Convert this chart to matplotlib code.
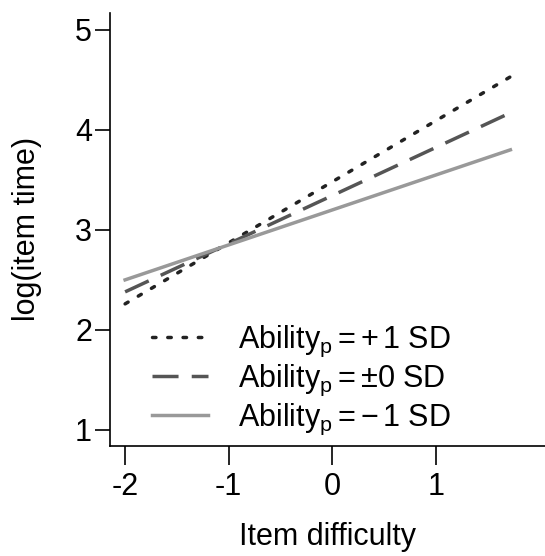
import matplotlib.pyplot as plt

plt.rcParams['font.family'] = ['Liberation Sans', 'DejaVu Sans']
plt.rcParams['mathtext.fontset'] = 'custom'
plt.rcParams['mathtext.rm'] = 'Liberation Sans'
plt.rcParams['mathtext.it'] = 'Liberation Sans:italic'

# item difficulty range of the predicted lines
difficulty = [-2.0, 1.72]
# predicted log(item time) at both ends
logtime_plus1 = [2.26, 4.53]
logtime_zero = [2.38, 4.17]
logtime_minus1 = [2.50, 3.80]

labels = [r"Ability$_{\rm p} = +\,1$ SD",
          r"Ability$_{\rm p} = \pm 0$ SD",
          r"Ability$_{\rm p} = -\,1$ SD"]

fig = plt.figure(figsize=(5.45, 5.56), dpi=100)
ax = fig.add_axes([0.202, 0.198, 0.798, 0.779])

ax.plot(difficulty, logtime_plus1, color="#222222", lw=2.5,
        linestyle=(0, (1.0, 3.4)), dash_capstyle="round", label=labels[0])
ax.plot(difficulty, logtime_zero, color="#555555", lw=2.5,
        linestyle=(0, (7.5, 3.8)), label=labels[1])
ax.plot(difficulty, logtime_minus1, color="#999999", lw=2.5,
        linestyle="-", label=labels[2])

ax.set_xlim(-2.145, 2.054)
ax.set_ylim(0.84, 5.17)
ax.set_xticks([-2, -1, 0, 1])
ax.set_xticklabels(["-2", "-1", "0", "1"])
ax.set_yticks([1, 2, 3, 4, 5])

for s in ["top", "right"]:
    ax.spines[s].set_visible(False)
for s in ["left", "bottom"]:
    ax.spines[s].set_linewidth(1.2)

ax.tick_params(axis="x", length=13.5, width=1.2, labelsize=22, pad=5)
ax.tick_params(axis="y", length=11, width=1.2, labelsize=22, pad=2)

ax.set_xlabel("Item difficulty", fontsize=22, labelpad=15)
ax.set_ylabel("log(item time)", fontsize=22, labelpad=24)

ax.legend(loc="center left", bbox_to_anchor=(0.097, 0.152), frameon=False,
          fontsize=22, handlelength=1.84, handletextpad=0.95,
          labelspacing=0.13, borderaxespad=0, borderpad=0)

fig.savefig("out.png", dpi=100)
